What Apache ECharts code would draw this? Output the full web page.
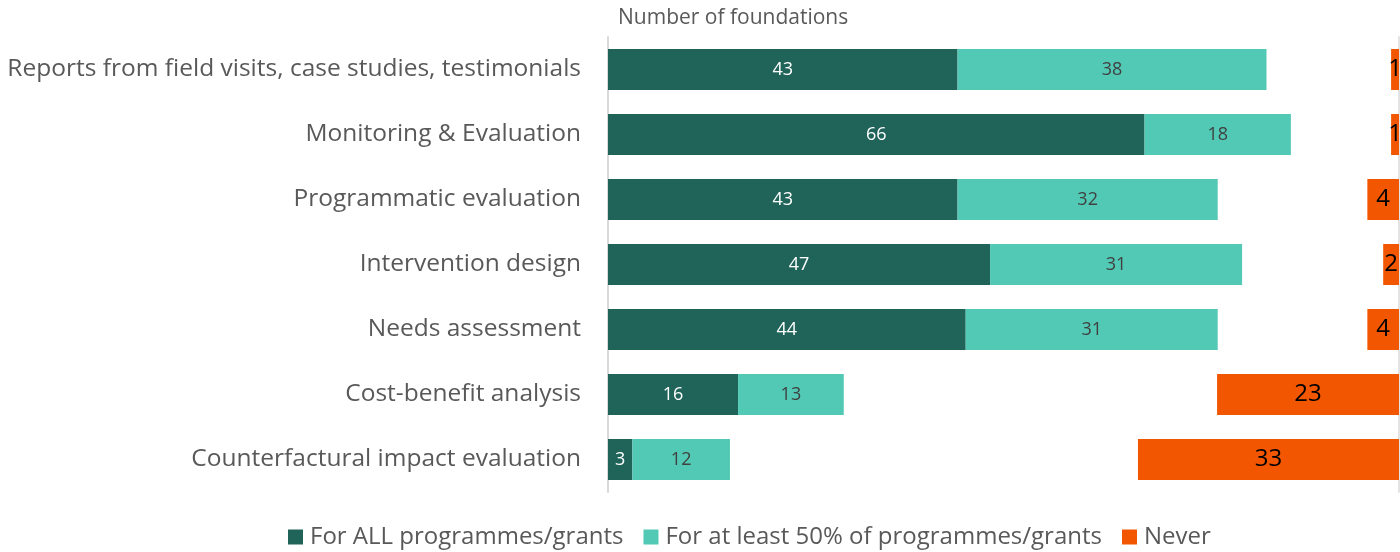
<!DOCTYPE html>
<html>
<head>
<meta charset="utf-8">
<script src="https://cdn.jsdelivr.net/npm/echarts@6/dist/echarts.min.js"></script>
<style>
  html, body { margin: 0; padding: 0; background: #fff; }
  #chart { width: 1400px; height: 552px; }
</style>
</head>
<body>
<div id="chart"></div>
<script>
var categories = [
  'Reports from field visits, case studies, testimonials',
  'Monitoring & Evaluation',
  'Programmatic evaluation',
  'Intervention design',
  'Needs assessment',
  'Cost-benefit analysis',
  'Counterfactural impact evaluation'
];
var forAll = [43, 66, 43, 47, 44, 16, 3];
var forHalf = [38, 18, 32, 31, 31, 13, 12];
var never = [1, 1, 4, 2, 4, 23, 33];

var font = '"Open Sans", sans-serif';
var grey = '#595959';

var chart = echarts.init(document.getElementById('chart'));

var option = {
  animation: false,
  textStyle: { fontFamily: font },
  title: {
    text: 'Number of foundations',
    left: 613,
    top: 3,
    textStyle: { fontFamily: font, fontSize: 21, fontWeight: 'normal', color: grey }
  },
  legend: {
    bottom: -2,
    left: 283,
    icon: 'rect',
    itemWidth: 15,
    itemHeight: 15,
    itemGap: 20,
    textStyle: { fontFamily: font, fontSize: 24, color: grey, padding: [0, 0, 0, 2] },
    data: ['For ALL programmes/grants', 'For at least 50% of programmes/grants', 'Never']
  },
  grid: { left: 608, right: 1, top: 37, bottom: 60 },
  xAxis: [{
    type: 'value',
    min: 0,
    max: 97.3,
    show: false
  }, {
    type: 'value',
    min: 0,
    max: 100,
    inverse: true,
    show: false
  }],
  yAxis: [{
    type: 'category',
    inverse: true,
    data: categories,
    axisLine: { show: true, lineStyle: { color: '#d9d9d9', width: 2 } },
    axisTick: { show: false },
    axisLabel: { fontFamily: font, fontSize: 24.5, color: grey, margin: 27 }
  }, {
    type: 'category',
    inverse: true,
    position: 'right',
    data: categories,
    axisLine: { show: true, lineStyle: { color: '#e3e3e3', width: 2 } },
    axisTick: { show: false },
    axisLabel: { show: false }
  }],
  series: [{
    name: 'For ALL programmes/grants',
    type: 'bar',
    stack: 'use',
    barWidth: 41,
    itemStyle: { color: '#1f6359' },
    label: { show: true, position: 'inside', fontFamily: font, fontSize: 18, color: '#ffffff' },
    data: forAll
  }, {
    name: 'For at least 50% of programmes/grants',
    type: 'bar',
    stack: 'use',
    barWidth: 41,
    itemStyle: { color: '#52c9b5' },
    label: { show: true, position: 'inside', fontFamily: font, fontSize: 18, color: '#404040' },
    data: forHalf
  }, {
    name: 'Never',
    type: 'bar',
    xAxisIndex: 1,
    barWidth: 41,
    barGap: '-100%',
    itemStyle: { color: '#f25700' },
    label: { show: true, position: 'inside', fontFamily: font, fontSize: 24, color: '#000000' },
    data: never
  }]
};

chart.setOption(option);
</script>
</body>
</html>
